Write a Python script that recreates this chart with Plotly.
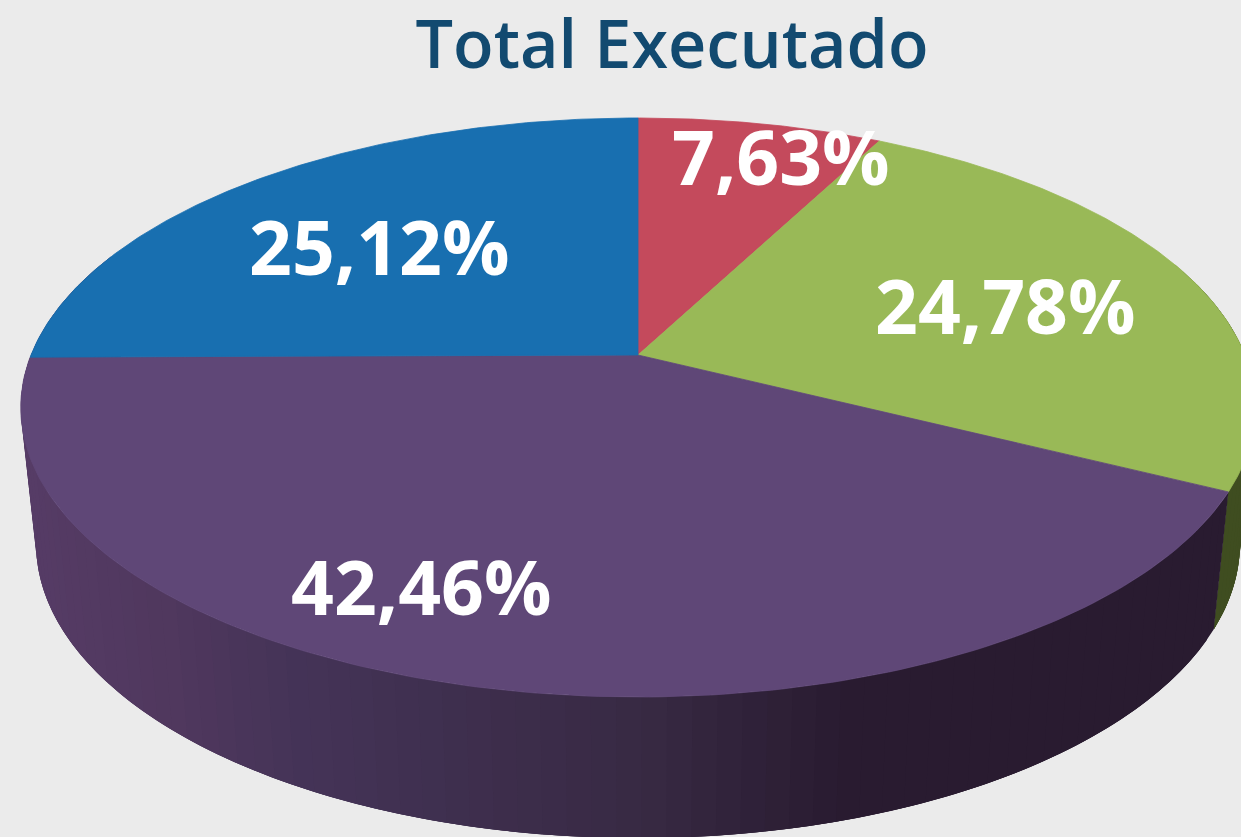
import numpy as np
import plotly.graph_objects as go

title = "Total Executado"
labels = ["7,63%", "24,78%", "42,46%", "25,12%"]
values = [7.63, 24.78, 42.46, 25.12]
top_colors = ["#c44a5c", "#99b957", "#5f4777", "#186fb0"]
side_colors = ["#7a2f3a", "#3f4d20", None, "#123f66"]
label_x = [781, 1005, 421, 379]
label_y = [156, 305, 586, 246]

BG = "#ebebeb"
K = 0.1813
TOP = dict(cx=638, cy=355, A=607, B=280)
BOT = dict(cx=638, cy=490, A=592, B=285)

# side shade stops: (screen x, rgb)
SHADE_X = [40, 180, 300, 640, 850, 1241]
SHADE_R = [86, 80, 69, 56, 41, 41]
SHADE_G = [60, 56, 52, 42, 27, 27]
SHADE_B = [102, 94, 88, 68, 48, 48]


def project(theta, d):
    u, v = np.sin(theta), np.cos(theta)
    w = 1 + K * v
    return d["cx"] + d["A"] * u / w, d["cy"] - d["B"] * v / w


total = sum(values)
edges = np.cumsum([0] + values) / total * 2 * np.pi

fig = go.Figure()


def poly(xs, ys, color, lw=0.8):
    fig.add_trace(go.Scatter(
        x=list(xs), y=list(ys), mode="lines", fill="toself", fillcolor=color,
        line=dict(color=color, width=lw), hoverinfo="skip", showlegend=False))


# green side wall: overlapping strips of the visible stretch of its arc
tg = np.linspace(np.deg2rad(70), edges[2], 30)
gstep = tg[1] - tg[0]
for a, b in zip(tg[:-1], tg[1:]):
    arc = np.linspace(a, min(b + gstep * 3, tg[-1]), 6)
    xa, ya = project(arc, TOP)
    xb, yb = project(arc, BOT)
    poly(np.r_[xa, xb[::-1]], np.r_[ya, yb[::-1]], side_colors[1], lw=0)

# purple side wall, shaded in overlapping slivers so that no seams show
ts = np.linspace(edges[2], np.deg2rad(292), 90)
step = ts[1] - ts[0]
for a, b in zip(ts[:-1], ts[1:]):
    arc = np.linspace(a, min(b + step * 2, ts[-1]), 6)
    xa, ya = project(arc, TOP)
    xb, yb = project(arc, BOT)
    m = project(np.array([(a + b) / 2]), BOT)[0][0]
    c = "rgb(%d,%d,%d)" % (np.interp(m, SHADE_X, SHADE_R),
                           np.interp(m, SHADE_X, SHADE_G),
                           np.interp(m, SHADE_X, SHADE_B))
    poly(np.r_[xa, xb[::-1]], np.r_[ya, yb[::-1]], c, lw=0)

# top face
for i, col in enumerate(top_colors):
    t = np.linspace(edges[i], edges[i + 1], 160)
    x, y = project(t, TOP)
    poly(np.r_[TOP["cx"], x, TOP["cx"]], np.r_[TOP["cy"], y, TOP["cy"]], col)

for txt, lx, ly in zip(labels, label_x, label_y):
    fig.add_annotation(x=lx, y=ly, text=txt, showarrow=False, xanchor="center", yanchor="middle",
                       font=dict(family="Open Sans", size=75, color="white", weight=700))

fig.update_layout(
    width=1241, height=837, margin=dict(l=0, r=0, t=0, b=0), autosize=False,
    paper_bgcolor=BG, plot_bgcolor=BG, showlegend=False,
    title=dict(text=title, x=672 / 1241, xanchor="center", y=1 - 45 / 837, yanchor="middle",
               font=dict(family="Open Sans", size=66.5, color="#124a70", weight=600)),
    xaxis=dict(range=[0, 1241], visible=False, fixedrange=True),
    yaxis=dict(range=[837, 0], visible=False, fixedrange=True),
)
fig.write_html("out.html", config={"displayModeBar": False},
               post_script="document.body.style.margin='0';document.body.style.overflow='hidden';")
